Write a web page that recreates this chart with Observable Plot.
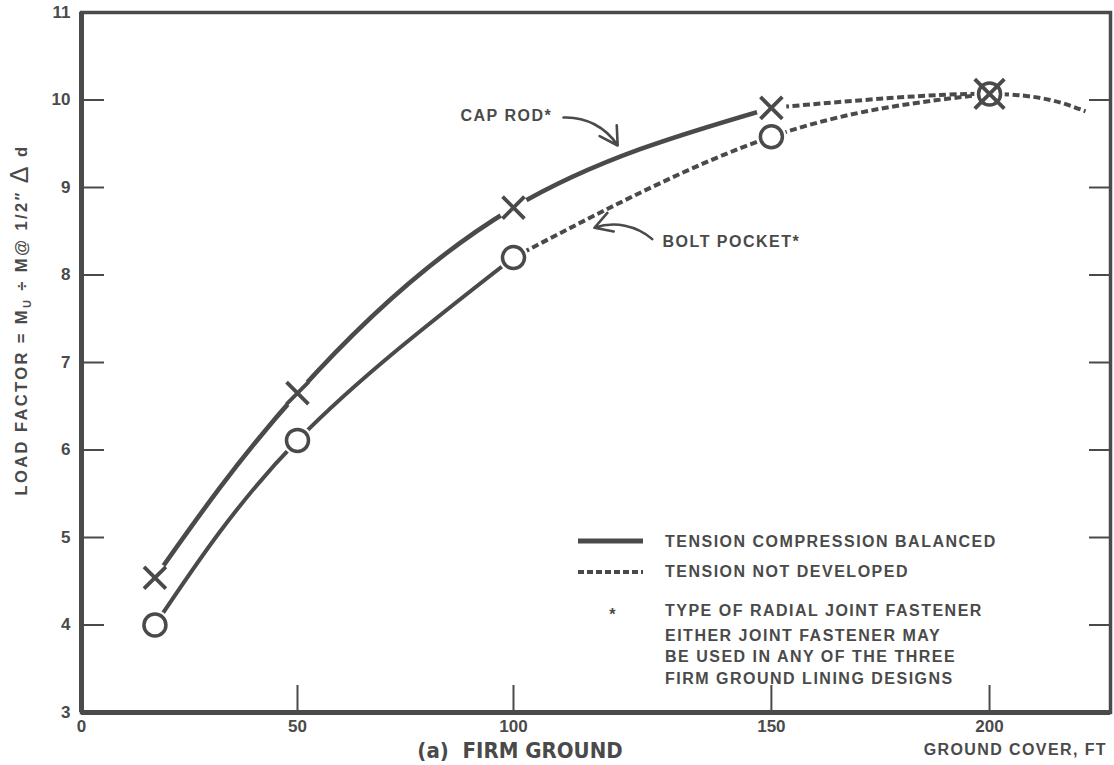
<!DOCTYPE html>
<html><head><meta charset="utf-8">
<script src="https://cdn.jsdelivr.net/npm/d3@7"></script>
<script src="https://cdn.jsdelivr.net/npm/@observablehq/plot@0.6"></script>
<style>body{margin:0;background:#fff}</style>
</head><body><div id="chart"></div>
<script>
// ---- data ----
const groundCover = [17, 50, 100, 150, 200];          // ft
const capRod      = [4.54, 6.65, 8.77, 9.91, 10.07];  // load factor
const boltPocket  = [4.0, 6.11, 8.2, 9.58, 10.07];
const tailCover   = [222];
const tailLoad    = [9.87];
const xTickValues = [0, 50, 100, 150, 200];
const yTickValues = [3, 4, 5, 6, 7, 8, 9, 10, 11];
const legendLabels = ["TENSION COMPRESSION BALANCED", "TENSION NOT DEVELOPED", "TYPE OF RADIAL JOINT FASTENER"];
const noteLines = ["EITHER JOINT FASTENER MAY", "BE USED IN ANY OF THE THREE", "FIRM GROUND LINING DESIGNS"];
const seriesNames = ["CAP ROD*", "BOLT POCKET*"];
const titleText = "(a)  FIRM GROUND";
const xTitle = "GROUND COVER, FT";

// ---- derived tables ----
const cap  = groundCover.map((x, i) => ({x, y: capRod[i]}));
const bolt = groundCover.map((x, i) => ({x, y: boltPocket[i]}));
const tail = tailCover.map((x, i) => ({x, y: tailLoad[i]}));
const capSolid   = cap.filter(d => d.x <= 150);
const capDotted  = [...cap.filter(d => d.x >= 150), ...tail];
const boltSolid  = bolt.filter(d => d.x <= 100);
const boltDotted = bolt.filter(d => d.x >= 100);

const ink = "#4a4a4a";
const font = "'Liberation Sans', Arial, Helvetica, sans-serif";
const dash = "7,3.5";

// the hand-drawn original spaces its x ticks slightly unevenly (150 sits a bit further right)
const warp = d3.scaleLinear().domain([0, 50, 100, 150, 200]).range([0, 50, 100, 159.7, 210.2]);

// annotation anchors (data units)
const capNote  = [{text: seriesNames[0], x: 107.5, y: 9.82}];
const boltNote = [{text: seriesNames[1], x: 128.9, y: 8.38}];
const capPointer  = [{x1: 109.7, y1: 9.80, x2: 120.2, y2: 9.48}];
const boltPointer = [{x1: 126.9, y1: 8.41, x2: 115.7, y2: 8.54}];

const chart = Plot.plot({
  width: 1114,
  height: 765,
  marginLeft: 81, marginRight: 4, marginTop: 12, marginBottom: 53,
  style: {fontFamily: font, color: ink, background: "white", overflow: "visible"},
  x: {transform: warp, domain: [0, 238.2]},
  y: {domain: [3, 11]},
  marks: [
    Plot.line(capSolid,  {x: "x", y: "y", curve: "natural", stroke: ink, strokeWidth: 4.6}),
    Plot.line(capDotted, {x: "x", y: "y", curve: "natural", stroke: ink, strokeWidth: 4, strokeDasharray: dash, strokeLinecap: "butt"}),
    Plot.line(boltSolid, {x: "x", y: "y", curve: "natural", stroke: ink, strokeWidth: 4}),
    Plot.line(boltDotted,{x: "x", y: "y", curve: "natural", stroke: ink, strokeWidth: 4, strokeDasharray: dash, strokeLinecap: "butt"}),
    Plot.dot([...cap, ...bolt], {x: "x", y: "y", r: 15, fill: "white"}),
    Plot.dot(bolt, {x: "x", y: "y", r: 11, stroke: ink, strokeWidth: 3.5, fill: "none"}),
    Plot.dot(cap.filter(d => d.x < 200), {x: "x", y: "y", symbol: "times", r: 10, stroke: ink, strokeWidth: 3.8}),
    Plot.dot(cap.filter(d => d.x >= 200), {x: "x", y: "y", symbol: "times", r: 13.5, stroke: ink, strokeWidth: 3.8}),
    Plot.text(capNote,  {x: "x", y: "y", text: "text", textAnchor: "end", fontSize: 16, fontWeight: "bold", fill: ink}),
    Plot.text(boltNote, {x: "x", y: "y", text: "text", textAnchor: "start", fontSize: 16, fontWeight: "bold", fill: ink}),
    Plot.arrow(capPointer,  {x1: "x1", y1: "y1", x2: "x2", y2: "y2", bend: 30, stroke: ink, strokeWidth: 2.6, headLength: 12}),
    Plot.arrow(boltPointer, {x1: "x1", y1: "y1", x2: "x2", y2: "y2", bend: -30, stroke: ink, strokeWidth: 2.6, headLength: 12}),
    Plot.frame({stroke: ink, strokeWidth: 3.5}),
    Plot.ruleX([0], {stroke: ink, strokeWidth: 5}),
    Plot.ruleY([3], {stroke: ink, strokeWidth: 5}),
    Plot.axisY(yTickValues, {tickSize: 0, tickPadding: 11, fontSize: 17, fontWeight: "bold", label: null, tickFormat: d => String(d)}),
    Plot.axisY(yTickValues.slice(1, -1), {tickSize: -23, tickFormat: () => "", label: null, strokeWidth: 2}),
    Plot.axisY(yTickValues.slice(1, -1), {anchor: "right", tickSize: -22, tickFormat: () => "", label: null, strokeWidth: 2}),
    Plot.axisX(xTickValues, {tickSize: 0, tickPadding: 7, fontSize: 17, fontWeight: "bold", label: null, tickFormat: d => String(d)}),
    Plot.axisX(xTickValues.slice(1), {tickSize: -27, tickFormat: () => "", label: null, strokeWidth: 2})
  ]
});

document.getElementById("chart").appendChild(chart);
const svg = d3.select(chart);
svg.selectAll('g[aria-label="text"] text').attr("letter-spacing", 1.5);

// y-axis title
const yt = svg.append("text")
  .attr("transform", "translate(27,320) rotate(-90)")
  .attr("text-anchor", "middle")
  .attr("font-family", font).attr("font-weight", "bold").attr("font-size", 16.5)
  .attr("letter-spacing", 2.4).attr("fill", ink);
yt.append("tspan").text("LOAD FACTOR = M");
yt.append("tspan").attr("font-size", 11).attr("dy", 4).text("U");
yt.append("tspan").attr("dy", -4).text(" ÷ M@ 1/2″ ");
yt.append("tspan").attr("font-size", 25).attr("font-weight", "normal").attr("dy", 1).text("Δ");
yt.append("tspan").attr("dy", -1).text(" d");

// bottom titles
svg.append("text").attr("x", 520).attr("y", 750).attr("dy", "0.36em")
  .attr("text-anchor", "middle").attr("font-family", "'DejaVu Sans Condensed', 'Liberation Sans Narrow', sans-serif")
  .attr("font-weight", "bold").attr("font-size", 22).attr("fill", ink).text(titleText);
svg.append("text").attr("x", 1107).attr("y", 749).attr("dy", "0.36em")
  .attr("text-anchor", "end").attr("font-family", font).attr("font-weight", "bold")
  .attr("font-size", 16).attr("letter-spacing", 1.4).attr("fill", ink).text(xTitle);

// legend
const lg = svg.append("g").attr("font-family", font).attr("font-weight", "bold")
  .attr("font-size", 16).attr("letter-spacing", 1.5).attr("fill", ink).attr("text-anchor", "start");
lg.append("line").attr("x1", 578).attr("x2", 643).attr("y1", 541).attr("y2", 541)
  .attr("stroke", ink).attr("stroke-width", 5);
lg.append("line").attr("x1", 578).attr("x2", 643).attr("y1", 572).attr("y2", 572)
  .attr("stroke", ink).attr("stroke-width", 4).attr("stroke-dasharray", "6,3");
lg.append("text").attr("x", 613).attr("y", 610).attr("dy", "0.6em").attr("text-anchor", "middle").text("*");
const rowY = [541, 571.5, 610];
legendLabels.forEach((t, i) => lg.append("text").attr("x", 665).attr("y", rowY[i]).attr("dy", "0.36em").text(t));
noteLines.forEach((t, i) => lg.append("text").attr("x", 665).attr("y", 635 + i * 21.5).attr("dy", "0.36em").text(t));
</script>
</body></html>
